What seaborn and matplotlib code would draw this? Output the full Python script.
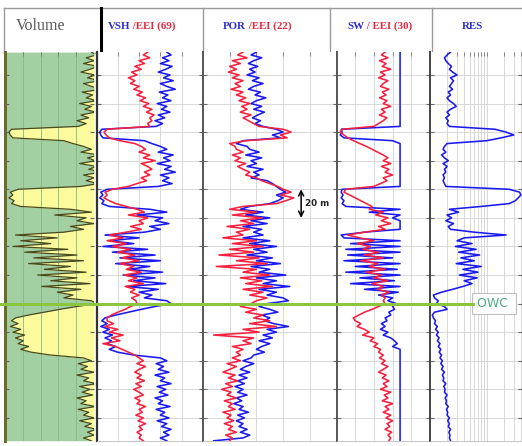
import numpy as np
import pandas as pd
import matplotlib
matplotlib.use("Agg")
import matplotlib.pyplot as plt
import seaborn as sns
from matplotlib.lines import Line2D
from matplotlib.transforms import blended_transform_factory
from matplotlib.ticker import LogLocator, NullFormatter

# ---------------- data ----------------
depth = np.arange(4, 278, 2)  # relative depth, m (137 samples)

vsh = [0.66, 0.70, 0.62, 0.68, 0.60, 0.71, 0.65, 0.58, 0.69, 0.63,
       0.72, 0.60, 0.66, 0.74, 0.59, 0.67, 0.62, 0.70, 0.57, 0.66,
       0.61, 0.69, 0.58, 0.64, 0.55, 0.62, 0.56, 0.05, 0.03, 0.04,
       0.06, 0.45, 0.52, 0.60, 0.66, 0.58, 0.72, 0.63, 0.69, 0.57,
       0.70, 0.64, 0.74, 0.60, 0.68, 0.62, 0.71, 0.58, 0.10, 0.04,
       0.06, 0.03, 0.07, 0.05, 0.12, 0.50, 0.66, 0.38, 0.62, 0.55,
       0.68, 0.50, 0.60, 0.45, 0.08, 0.40, 0.12, 0.35, 0.06, 0.48,
       0.15, 0.55, 0.22, 0.60, 0.18, 0.50, 0.30, 0.62, 0.25, 0.55,
       0.35, 0.65, 0.28, 0.58, 0.40, 0.52, 0.45, 0.66, 0.70, 0.55,
       0.42, 0.30, 0.18, 0.08, 0.05, 0.10, 0.04, 0.12, 0.06, 0.15,
       0.08, 0.14, 0.10, 0.18, 0.12, 0.20, 0.35, 0.60, 0.66, 0.56,
       0.63, 0.58, 0.68, 0.55, 0.64, 0.60, 0.70, 0.57, 0.65, 0.59,
       0.67, 0.55, 0.62, 0.58, 0.69, 0.56, 0.64, 0.60, 0.68, 0.57,
       0.66, 0.61, 0.70, 0.63, 0.68, 0.60, 0.66]

eei69 = [0.48, 0.44, 0.50, 0.40, 0.45, 0.36, 0.42, 0.33, 0.38, 0.30,
         0.36, 0.32, 0.40, 0.35, 0.43, 0.38, 0.46, 0.41, 0.49, 0.44,
         0.52, 0.47, 0.54, 0.50, 0.52, 0.48, 0.50, 0.10, 0.07, 0.09,
         0.12, 0.22, 0.36, 0.42, 0.46, 0.40, 0.50, 0.44, 0.55, 0.42,
         0.48, 0.52, 0.45, 0.50, 0.42, 0.47, 0.38, 0.30, 0.15, 0.08,
         0.10, 0.07, 0.12, 0.18, 0.28, 0.38, 0.45, 0.30, 0.48, 0.40,
         0.44, 0.32, 0.42, 0.28, 0.12, 0.25, 0.10, 0.28, 0.15, 0.32,
         0.20, 0.36, 0.24, 0.40, 0.22, 0.35, 0.28, 0.42, 0.26, 0.38,
         0.30, 0.44, 0.27, 0.36, 0.32, 0.40, 0.33, 0.37, 0.38, 0.32,
         0.27, 0.20, 0.14, 0.10, 0.10, 0.16, 0.08, 0.20, 0.12, 0.25,
         0.14, 0.22, 0.06, 0.18, 0.24, 0.30, 0.36, 0.40, 0.44, 0.38,
         0.46, 0.40, 0.36, 0.42, 0.38, 0.45, 0.37, 0.42, 0.35, 0.40,
         0.44, 0.36, 0.41, 0.38, 0.46, 0.40, 0.43, 0.37, 0.44, 0.39,
         0.46, 0.40, 0.43, 0.38, 0.42, 0.40, 0.44]

por = [0.40, 0.36, 0.44, 0.38, 0.34, 0.41, 0.35, 0.39, 0.33, 0.42,
       0.37, 0.45, 0.38, 0.34, 0.43, 0.39, 0.47, 0.40, 0.36, 0.44,
       0.38, 0.46, 0.41, 0.37, 0.43, 0.39, 0.45, 0.55, 0.60, 0.52,
       0.58, 0.30, 0.25, 0.33, 0.35, 0.42, 0.32, 0.44, 0.36, 0.40,
       0.33, 0.45, 0.38, 0.42, 0.36, 0.48, 0.52, 0.55, 0.58, 0.62,
       0.55, 0.60, 0.56, 0.50, 0.35, 0.28, 0.45, 0.32, 0.50, 0.36,
       0.48, 0.30, 0.44, 0.38, 0.45, 0.30, 0.50, 0.35, 0.55, 0.38,
       0.48, 0.33, 0.52, 0.40, 0.58, 0.36, 0.50, 0.42, 0.62, 0.40,
       0.55, 0.45, 0.65, 0.42, 0.55, 0.48, 0.60, 0.64, 0.48, 0.42,
       0.50, 0.56, 0.44, 0.50, 0.46, 0.53, 0.64, 0.48, 0.55, 0.45,
       0.52, 0.42, 0.50, 0.44, 0.40, 0.46, 0.38, 0.36, 0.30, 0.38,
       0.32, 0.28, 0.35, 0.27, 0.33, 0.26, 0.31, 0.24, 0.30, 0.26,
       0.33, 0.25, 0.29, 0.23, 0.30, 0.27, 0.34, 0.26, 0.31, 0.25,
       0.30, 0.27, 0.33, 0.28, 0.35, 0.30, 0.08]

eei22 = [0.30, 0.26, 0.33, 0.22, 0.28, 0.20, 0.25, 0.19, 0.27, 0.22,
         0.30, 0.24, 0.28, 0.21, 0.30, 0.25, 0.32, 0.27, 0.35, 0.29,
         0.33, 0.28, 0.36, 0.30, 0.34, 0.38, 0.42, 0.60, 0.66, 0.58,
         0.63, 0.32, 0.20, 0.24, 0.25, 0.30, 0.22, 0.28, 0.24, 0.32,
         0.26, 0.30, 0.35, 0.32, 0.40, 0.44, 0.50, 0.56, 0.60, 0.66,
         0.58, 0.68, 0.62, 0.55, 0.30, 0.20, 0.40, 0.22, 0.44, 0.28,
         0.38, 0.18, 0.35, 0.25, 0.30, 0.15, 0.40, 0.22, 0.45, 0.20,
         0.38, 0.12, 0.42, 0.25, 0.48, 0.10, 0.40, 0.30, 0.50, 0.28,
         0.44, 0.32, 0.52, 0.30, 0.45, 0.35, 0.48, 0.40, 0.36, 0.28,
         0.40, 0.32, 0.45, 0.38, 0.50, 0.35, 0.55, 0.30, 0.42, 0.08,
         0.38, 0.30, 0.36, 0.22, 0.30, 0.25, 0.28, 0.22, 0.28, 0.18,
         0.25, 0.20, 0.15, 0.24, 0.19, 0.26, 0.17, 0.22, 0.14, 0.21,
         0.18, 0.25, 0.16, 0.22, 0.19, 0.24, 0.15, 0.21, 0.18, 0.23,
         0.16, 0.22, 0.19, 0.25, 0.17, 0.22, 0.20]

sw = [0.68, 0.68, 0.68, 0.68, 0.68, 0.68, 0.68, 0.68, 0.68, 0.68,
      0.68, 0.68, 0.68, 0.68, 0.68, 0.68, 0.68, 0.68, 0.68, 0.68,
      0.68, 0.68, 0.68, 0.68, 0.68, 0.68, 0.68, 0.05, 0.06, 0.04,
      0.08, 0.60, 0.68, 0.68, 0.68, 0.68, 0.68, 0.68, 0.68, 0.68,
      0.68, 0.68, 0.68, 0.68, 0.68, 0.68, 0.68, 0.68, 0.06, 0.05,
      0.07, 0.05, 0.08, 0.06, 0.10, 0.68, 0.35, 0.68, 0.60, 0.68,
      0.68, 0.68, 0.68, 0.30, 0.05, 0.08, 0.68, 0.15, 0.68, 0.10,
      0.68, 0.12, 0.60, 0.08, 0.68, 0.20, 0.65, 0.10, 0.68, 0.25,
      0.62, 0.15, 0.68, 0.30, 0.66, 0.45, 0.60, 0.55, 0.64, 0.60,
      0.62, 0.56, 0.58, 0.52, 0.54, 0.48, 0.52, 0.47, 0.55, 0.50,
      0.58, 0.62, 0.65, 0.60, 0.68, 0.68, 0.68, 0.68, 0.68, 0.68,
      0.68, 0.68, 0.68, 0.68, 0.68, 0.68, 0.68, 0.68, 0.68, 0.68,
      0.68, 0.68, 0.68, 0.68, 0.68, 0.68, 0.68, 0.68, 0.68, 0.68,
      0.68, 0.68, 0.68, 0.68, 0.68, 0.68, 0.68]

eei30 = [0.52, 0.48, 0.55, 0.46, 0.53, 0.49, 0.58, 0.47, 0.52, 0.45,
         0.55, 0.50, 0.47, 0.56, 0.49, 0.53, 0.46, 0.54, 0.50, 0.58,
         0.48, 0.52, 0.46, 0.54, 0.50, 0.45, 0.40, 0.06, 0.04, 0.08,
         0.12, 0.18, 0.25, 0.32, 0.38, 0.44, 0.50, 0.55, 0.50, 0.58,
         0.48, 0.56, 0.52, 0.60, 0.50, 0.54, 0.47, 0.40, 0.10, 0.08,
         0.14, 0.20, 0.26, 0.32, 0.38, 0.35, 0.50, 0.42, 0.55, 0.48,
         0.58, 0.45, 0.52, 0.30, 0.12, 0.25, 0.40, 0.22, 0.36, 0.28,
         0.45, 0.30, 0.50, 0.26, 0.44, 0.35, 0.52, 0.32, 0.48, 0.40,
         0.55, 0.38, 0.50, 0.44, 0.56, 0.48, 0.52, 0.50, 0.52, 0.45,
         0.38, 0.30, 0.24, 0.18, 0.20, 0.26, 0.22, 0.30, 0.35, 0.28,
         0.40, 0.36, 0.44, 0.40, 0.47, 0.45, 0.50, 0.46, 0.52, 0.48,
         0.55, 0.50, 0.45, 0.53, 0.49, 0.56, 0.50, 0.54, 0.47, 0.58,
         0.51, 0.55, 0.49, 0.60, 0.52, 0.56, 0.50, 0.58, 0.53, 0.60,
         0.54, 0.57, 0.52, 0.59, 0.55, 0.58, 0.56]

res = [2.3, 2.0, 1.8, 1.9, 2.1, 2.4, 2.2, 2.5, 3.0, 2.3,
       2.6, 2.4, 2.2, 2.5, 2.1, 2.3, 2.0, 2.2, 2.6, 2.9,
       2.3, 2.0, 2.2, 1.9, 2.1, 2.0, 2.2, 14, 22, 30,
       18, 10, 2.0, 1.8, 1.7, 1.9, 1.6, 1.8, 2.1, 1.7,
       2.0, 1.8, 1.9, 1.7, 1.8, 1.7, 1.8, 1.9, 25, 38,
       40, 36, 32, 25, 8, 2.2, 3.2, 2.0, 2.4, 1.9,
       2.6, 2.1, 2.3, 6, 22, 4, 3.0, 5.5, 2.8, 6.5,
       3.2, 7.5, 3.5, 6.0, 2.9, 8.0, 3.8, 7.0, 3.3, 6.8,
       4.0, 5.5, 3.8, 2.5, 1.6, 1.15, 1.2, 1.4, 1.3, 1.8,
       2.0, 1.2, 1.1, 1.15, 1.25, 1.2, 1.35, 1.25, 1.4, 1.3,
       1.45, 1.35, 1.5, 1.4, 1.55, 1.45, 1.6, 1.5, 1.65, 1.55,
       1.7, 1.6, 1.8, 1.65, 1.75, 1.7, 1.9, 1.75, 1.85, 1.8,
       2.0, 1.85, 1.95, 1.9, 2.1, 1.95, 2.05, 2.0, 2.2, 2.05,
       2.2, 2.1, 2.3, 2.15, 2.25, 2.2, 2.3]

owc_depth = 180
scale_bar = (100, 120)          # the "20 m" marker
scale_label = "20 m"
owc_label = "OWC"

header_volume = "Volume"
header_pairs = [("VSH", " /EEI (69)"), ("POR", " /EEI (22)"), ("SW", " / EEI (30)")]
header_res = "RES"

logs = pd.DataFrame({"depth": depth, "vsh": vsh, "eei69": eei69, "por": por,
                     "eei22": eei22, "sw": sw, "eei30": eei30, "res": res})

# ---------------- styling ----------------
BLUE = "#1a1aee"
RED = "#f5213f"
GREEN_FILL = "#a3d0a3"
YELLOW_FILL = "#fbfb9e"
OLIVE = "#4a4a1c"
GRID = "#d2d2d2"
OWC_GREEN = "#8cc63f"

plt.rcParams["font.family"] = ["DejaVu Sans"]
plt.rcParams["axes.axisbelow"] = True

W, H = 522, 446
fig = plt.figure(figsize=(W / 100, H / 100), dpi=100)
fig.patch.set_facecolor("white")

# header overlay in pixel units
hdr = fig.add_axes([0, 0, 1, 1])
hdr.set_xlim(0, W)
hdr.set_ylim(H, 0)
hdr.axis("off")
hdr.patch.set_alpha(0)

HT, HB = 8, 52.5
hc = "#9a9a9a"
hdr.plot([4, W], [HT, HT], color=hc, lw=1)
hdr.plot([4, W], [HB, HB], color=hc, lw=1)
hdr.plot([4, 4], [HT, HB], color=hc, lw=1)
for xd in (203, 330, 432):
    hdr.plot([xd, xd], [HT, HB], color=hc, lw=1)
hdr.plot([101, 101], [HT, HB], color="black", lw=2.2)

hdr.text(41, 26.5, header_volume, ha="center", va="center", fontsize=11.5,
         family="Liberation Serif", color="#5a5a5a")
for x_left, (blue_part, red_part) in zip((108, 223, 347), header_pairs):
    t = hdr.text(x_left, 26.5, blue_part, ha="left", va="center", fontsize=7.8,
                 family="Liberation Serif", fontweight="bold", color="#2a2ac8")
    hdr.annotate(red_part, xy=(1, 0), xycoords=t, ha="left", va="bottom",
                 fontsize=7.8, family="Liberation Serif", fontweight="bold",
                 color="#e8283c")
hdr.text(472, 26.5, header_res, ha="center", va="center", fontsize=7.8,
         family="Liberation Serif", fontweight="bold", color="#2a2ac8")

TOP, BOT = 52.1, 440.8
YLIM = (276, 4)
DEPTH_TICKS = np.arange(20, 261, 20)


def add_track(x0, x1):
    return fig.add_axes([x0 / W, 1 - BOT / H, (x1 - x0) / W, (BOT - TOP) / H])


def style_track(ax, left_color="#444444", left_lw=1.3, hgrid=True):
    ax.set_ylim(*YLIM)
    ax.set_yticks(DEPTH_TICKS)
    ax.set_xlabel("")
    ax.set_ylabel("")
    ax.tick_params(axis="y", direction="in", length=3, left=True, right=True,
                   color="#666666", width=0.8, labelleft=False, labelright=False)
    ax.tick_params(axis="x", which="both", direction="in", length=3, top=True,
                   bottom=False, color="#777777", width=0.6,
                   labelbottom=False, labeltop=False)
    if hgrid:
        ax.grid(True, axis="y", color=GRID, lw=0.6)
    for s in ("top", "right"):
        ax.spines[s].set_visible(False)
    ax.spines["bottom"].set_color("#bbbbbb")
    ax.spines["bottom"].set_linewidth(0.6)
    ax.spines["left"].set_color(left_color)
    ax.spines["left"].set_linewidth(left_lw)
    ax.set_facecolor("white")


def curve(ax, col, color, z=3, lw=1.15):
    sns.lineplot(data=logs, x=col, y="depth", orient="y", sort=False,
                 estimator=None, color=color, lw=lw, ax=ax, zorder=z)


# ---- Volume track ----
ax_vol = add_track(5, 94)
VOL_MAX = 0.68
ax_vol.fill_betweenx(logs["depth"], 0, logs["vsh"], color=GREEN_FILL, lw=0, zorder=1)
ax_vol.fill_betweenx(logs["depth"], logs["vsh"], VOL_MAX, color=YELLOW_FILL, lw=0, zorder=1)
curve(ax_vol, "vsh", OLIVE, z=3, lw=0.9)
ax_vol.set_xlim(0, VOL_MAX)
ax_vol.set_xticks(VOL_MAX * np.array([0.2, 0.4, 0.6, 0.8]))
style_track(ax_vol, left_color="#6b6b2a", left_lw=2.2, hgrid=False)
ax_vol.set_axisbelow(False)
ax_vol.grid(True, axis="x", color="#86b886", lw=0.6)
ax_vol.spines["bottom"].set_visible(False)

# ---- VSH / EEI(69) ----
ax_vsh = add_track(96.5, 203)
curve(ax_vsh, "vsh", BLUE)
curve(ax_vsh, "eei69", RED)
ax_vsh.set_xlim(0, 1)
ax_vsh.set_xticks([0.2, 0.4, 0.6, 0.8])
style_track(ax_vsh, left_color="#333333", left_lw=1.6)
ax_vsh.grid(True, axis="x", color=GRID, lw=0.6)

# ---- POR / EEI(22) ----
ax_por = add_track(203, 336.5)
curve(ax_por, "por", BLUE)
curve(ax_por, "eei22", RED)
ax_por.set_xlim(0, 1)
ax_por.set_xticks([0.2, 0.4, 0.6, 0.8])
style_track(ax_por, left_color="#555555", left_lw=1.4)
ax_por.grid(True, axis="x", color=GRID, lw=0.6)
ax_por.annotate("", xy=(0.735, scale_bar[0]), xytext=(0.735, scale_bar[1]),
                arrowprops=dict(arrowstyle="<->", color="black", lw=1.1,
                                shrinkA=0, shrinkB=0, mutation_scale=9),
                annotation_clip=False, zorder=6)
ax_por.text(0.765, np.mean(scale_bar), scale_label, ha="left", va="center",
            fontsize=6.3, fontweight="bold", color="#222222", zorder=6)

# ---- SW / EEI(30) ----
ax_sw = add_track(336.5, 430)
curve(ax_sw, "sw", BLUE)
curve(ax_sw, "eei30", RED)
ax_sw.set_xlim(0, 1)
ax_sw.set_xticks([0.2, 0.4, 0.6, 0.8])
style_track(ax_sw, left_color="#555555", left_lw=1.4)
ax_sw.grid(True, axis="x", color=GRID, lw=0.6)

# ---- RES (log) ----
ax_res = add_track(430, W)
ax_res.set_xscale("log")
curve(ax_res, "res", BLUE)
ax_res.set_xlim(1, 10 ** (92 / 56.7))
ax_res.xaxis.set_major_locator(LogLocator(base=10, subs=(1.0,)))
ax_res.xaxis.set_minor_locator(LogLocator(base=10, subs=np.arange(2, 10)))
ax_res.xaxis.set_minor_formatter(NullFormatter())
style_track(ax_res, left_color="#444444", left_lw=1.4)
ax_res.grid(True, axis="x", which="both", color=GRID, lw=0.6)

# ---- OWC line and label ----
trans = blended_transform_factory(fig.transFigure, ax_vol.transData)
fig.add_artist(Line2D([0, 473 / W], [owc_depth, owc_depth], transform=trans,
                      color=OWC_GREEN, lw=2.2, zorder=20))
ax_res.text(6.7, owc_depth, owc_label + " ", ha="left", va="center", fontsize=9,
            color="#4da882", zorder=21, clip_on=False,
            bbox=dict(boxstyle="square,pad=0.35", fc="white", ec="#c0c0c0", lw=0.8))

fig.savefig("out.png", dpi=100, facecolor="white")
